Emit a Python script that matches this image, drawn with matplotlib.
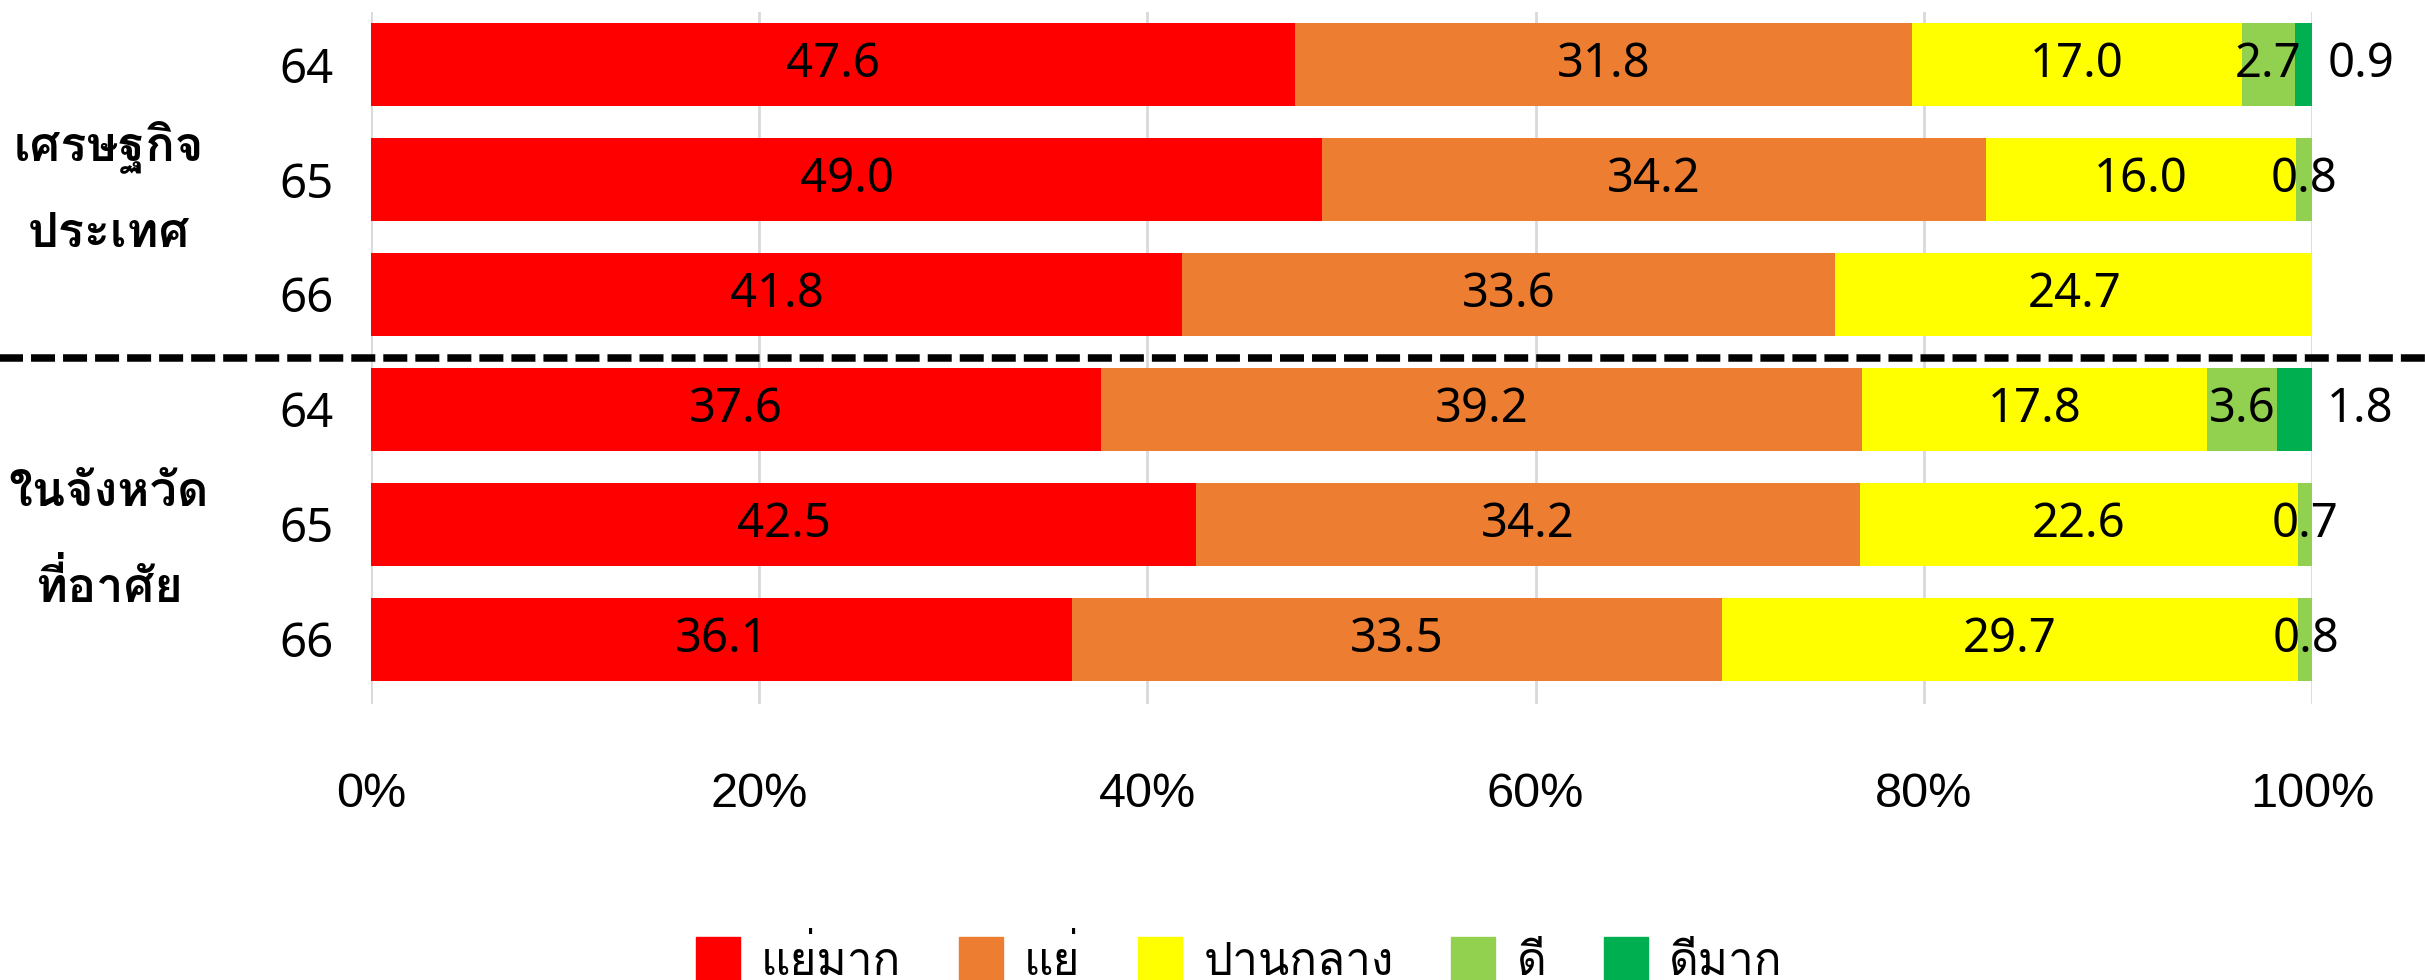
import matplotlib
matplotlib.use('Agg')
import matplotlib.pyplot as plt
from matplotlib import font_manager
from matplotlib.ft2font import FT2Font
from matplotlib.patches import Patch


def find_thai_font():
  # first installed family that has Thai glyphs
  for f in font_manager.fontManager.ttflist:
    try:
      if 0x0E01 in FT2Font(f.fname).get_charmap():
        return f.name
    except Exception:
      pass
  return 'DejaVu Sans'


THAI = find_thai_font()
FAM = [THAI, 'DejaVu Sans']
NUM = ['Noto Sans', 'DejaVu Sans']

years = ['64', '65', '66', '64', '65', '66']
groups = ['เศรษฐกิจ\nประเทศ', 'ในจังหวัด\nที่อาศัย']
categories = ['แย่มาก', 'แย่', 'ปานกลาง', 'ดี', 'ดีมาก']
colors = ['#FF0000', '#ED7D31', '#FFFF00', '#92D050', '#00B050']

very_bad = [47.6, 49.0, 41.8, 37.6, 42.5, 36.1]
bad = [31.8, 34.2, 33.6, 39.2, 34.2, 33.5]
neutral = [17.0, 16.0, 24.7, 17.8, 22.6, 29.7]
good = [2.7, 0.8, 0.0, 3.6, 0.7, 0.8]
very_good = [0.9, 0.0, 0.0, 1.8, 0.0, 0.0]

series = [very_bad, bad, neutral, good, very_good]
xticks = [0, 20, 40, 60, 80, 100]


def main():
  fig = plt.figure(figsize=(24.25, 9.8), dpi=100)
  ax = fig.add_axes([0.153, 0.282, 0.8004, 0.706])

  pos = list(range(len(years)))
  left = [0.0] * len(years)
  for i, vals in enumerate(series):
    ax.barh(pos, vals, left=left, height=0.72, color=colors[i], zorder=2)
    for j, v in enumerate(vals):
      if v > 0:
        if i == len(series) - 1:
          ax.annotate(f'{v:.1f}', (100, j), xytext=(11, 0), textcoords='offset points',
                      ha='left', va='center', fontsize=34, family=NUM, annotation_clip=False)
        else:
          ax.text(left[j] + v / 2, j, f'{v:.1f}', ha='center', va='center',
                  fontsize=34, family=NUM, zorder=3)
    left = [a + b for a, b in zip(left, vals)]

  ax.set_xlim(0, 100)
  ax.set_ylim(5.56, -0.46)
  ax.set_xticks(xticks)
  ax.set_xticklabels([f'{t}%' for t in xticks], fontsize=35, family='Liberation Sans')
  ax.set_yticks(pos)
  ax.set_yticklabels(years, fontsize=34, family=NUM)
  ax.tick_params(axis='x', length=0, pad=49)
  ax.tick_params(axis='y', length=0, pad=27)
  ax.grid(axis='x', color='#D9D9D9', linewidth=2, zorder=0)
  for s in ax.spines.values():
    s.set_visible(False)

  # divider between the two groups, across the whole figure
  ax.plot([-20, 120], [2.55, 2.55], color='black', linewidth=5.4,
          dashes=(3.2, 1.07), clip_on=False, zorder=4)

  fig.text(0.045, 0.808, groups[0], ha='center', va='center', fontsize=35,
           fontweight='bold', family=FAM, linespacing=2.1)
  fig.text(0.045, 0.448, groups[1], ha='center', va='center', fontsize=35,
           fontweight='bold', family=FAM, linespacing=2.1)

  handles = [Patch(color=c, label=l) for c, l in zip(colors, categories)]
  fig.legend(handles=handles, loc='center', bbox_to_anchor=(0.511, 0.02), ncol=5,
             frameon=False, prop={'family': FAM, 'size': 33},
             handlelength=0.96, handleheight=1.1, handletextpad=0.47, columnspacing=1.25)

  fig.savefig('out.png', dpi=100)


if __name__ == '__main__':
  main()
